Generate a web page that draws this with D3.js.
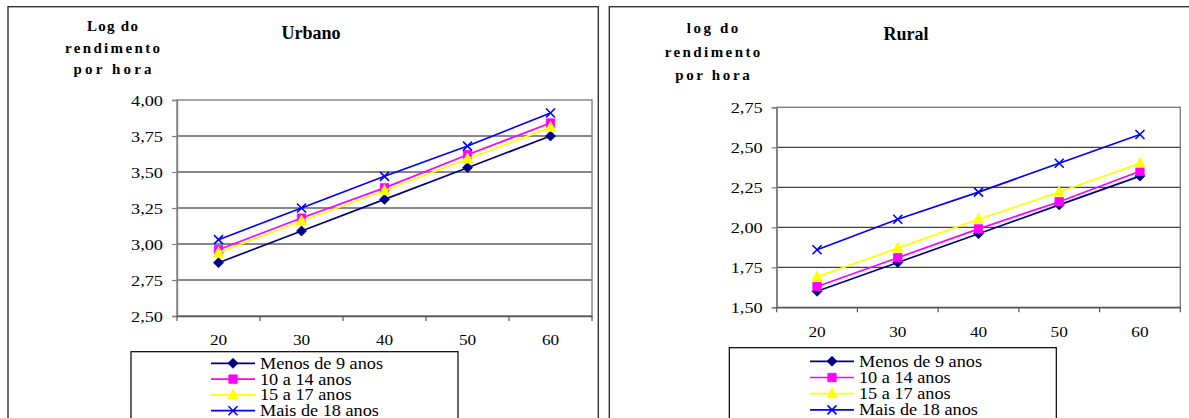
<!DOCTYPE html>
<html>
<head>
<meta charset="utf-8">
<script src="https://cdn.jsdelivr.net/npm/d3@7"></script>
<style>
  html, body { margin: 0; padding: 0; background: #fff; }
  svg { display: block; }
  svg text { font-family: "Liberation Serif", "DejaVu Serif", serif; fill: #000; }
</style>
</head>
<body>
<svg id="chart" width="1189" height="418"></svg>
<script>
// Idades (eixo X)
const ages = ["20", "30", "40", "50", "60"];
const seriesNames = ["Menos de 9 anos", "10 a 14 anos", "15 a 17 anos", "Mais de 18 anos"];

// Log do rendimento por hora — Urbano
const urbanoMenos9 = [2.87, 3.09, 3.31, 3.53, 3.75];
const urbano10a14  = [2.96, 3.18, 3.39, 3.62, 3.84];
const urbano15a17  = [2.94, 3.16, 3.37, 3.59, 3.81];
const urbanoMais18 = [3.03, 3.25, 3.47, 3.68, 3.91];

// Log do rendimento por hora — Rural
const ruralMenos9 = [1.60, 1.78, 1.96, 2.14, 2.32];
const rural10a14  = [1.63, 1.81, 1.99, 2.16, 2.35];
const rural15a17  = [1.69, 1.87, 2.05, 2.22, 2.40];
const ruralMais18 = [1.86, 2.05, 2.22, 2.40, 2.58];

// Marcas do eixo Y
const urbanoTicks = [2.50, 2.75, 3.00, 3.25, 3.50, 3.75, 4.00];
const ruralTicks  = [1.50, 1.75, 2.00, 2.25, 2.50, 2.75];

const seriesColors = ["#000080", "#FF00FF", "#FFFF00", "#0000FF"];
const seriesMarkers = ["diamond", "square", "triangle", "x"];

const FONT = '"Liberation Serif", "DejaVu Serif", serif';
const ptBR = d3.formatLocale({ decimal: ",", thousands: ".", grouping: [3], currency: ["R$", ""] });
const fmt = ptBR.format(".2f");

const svg = d3.select("#chart");

// widen text horizontally by factor k, keeping its anchor point
function stretch(sel, k) {
  sel.each(function () {
    const t = d3.select(this);
    const x = +t.attr("x") || 0;
    t.attr("x", x / k).attr("transform", `scale(${k},1)`);
  });
}

function markerPath(type) {
  const p = d3.path();
  if (type === "diamond") {
    p.moveTo(0, -5); p.lineTo(5, 0); p.lineTo(0, 5); p.lineTo(-5, 0); p.closePath();
  } else if (type === "square") {
    p.rect(-4.2, -4.2, 8.4, 8.4);
  } else if (type === "triangle") {
    p.moveTo(0, -6); p.lineTo(5.2, 4); p.lineTo(-5.2, 4); p.closePath();
  } else {
    p.moveTo(-4.5, -4.5); p.lineTo(4.5, 4.5);
    p.moveTo(4.5, -4.5); p.lineTo(-4.5, 4.5);
  }
  return p.toString();
}

function drawMarker(g, type, color, x, y) {
  const m = g.append("path")
    .attr("d", markerPath(type))
    .attr("transform", `translate(${x},${y})`);
  if (type === "x") {
    m.attr("fill", "none").attr("stroke", color).attr("stroke-width", 1.6);
  } else {
    m.attr("fill", color).attr("stroke", color).attr("stroke-width", 0.8);
  }
}

function panel(cfg) {
  const g = svg.append("g");

  // outer frame of the panel
  g.append("rect")
    .attr("x", cfg.frame[0]).attr("y", cfg.frame[1])
    .attr("width", cfg.frame[2]).attr("height", cfg.frame[3])
    .attr("fill", "none").attr("stroke", "#333").attr("stroke-width", 1.4);

  const x = d3.scaleBand().domain(ages).range(cfg.xRange);
  const y = d3.scaleLinear().domain(d3.extent(cfg.ticks)).range(cfg.yRange);
  const [x0, x1] = cfg.xRange;
  const [yb, yt] = cfg.yRange;

  // horizontal gridlines
  g.append("g").selectAll("line")
    .data(cfg.ticks.slice(1, -1))
    .join("line")
    .attr("x1", x0).attr("x2", x1)
    .attr("y1", d => y(d)).attr("y2", d => y(d))
    .attr("stroke", "#111").attr("stroke-width", 1);

  // plot area border
  g.append("rect")
    .attr("x", x0).attr("y", yt).attr("width", x1 - x0).attr("height", yb - yt)
    .attr("fill", "none").attr("stroke", "#808080").attr("stroke-width", 1.4);

  // y axis
  const yAxis = g.append("g")
    .attr("transform", `translate(${x0},0)`)
    .call(d3.axisLeft(y).tickValues(cfg.ticks).tickSize(5).tickPadding(9).tickFormat(fmt));
  yAxis.attr("font-family", FONT);
  yAxis.select(".domain").attr("stroke", "#808080").attr("stroke-width", 1.4);
  yAxis.selectAll(".tick line").attr("stroke", "#808080").attr("stroke-width", 1.2);
  yAxis.selectAll(".tick text")
    .attr("font-size", 15).attr("fill", "#000").attr("dy", "0.36em");
  stretch(yAxis.selectAll(".tick text"), 1.22);

  // x axis: labels centred in each band, ticks on band boundaries
  const xAxis = g.append("g")
    .attr("transform", `translate(0,${yb})`)
    .call(d3.axisBottom(x).tickSize(0).tickPadding(cfg.xLabelPad));
  xAxis.attr("font-family", FONT);
  xAxis.select(".domain").attr("stroke", "#555").attr("stroke-width", 1.4);
  xAxis.selectAll(".tick text")
    .attr("font-size", 15).attr("fill", "#000");
  stretch(xAxis.selectAll(".tick text"), 1.15);
  xAxis.append("g").selectAll("line")
    .data(ages.map(a => x(a)).concat([x1]))
    .join("line")
    .attr("x1", d => d).attr("x2", d => d)
    .attr("y1", 0).attr("y2", 5)
    .attr("stroke", "#555").attr("stroke-width", 1.2);

  // series lines and markers
  const line = d3.line().x((d, i) => x(ages[i]) + x.bandwidth() / 2).y(d => y(d));
  cfg.series.forEach((vals, s) => {
    g.append("path")
      .attr("d", line(vals))
      .attr("fill", "none")
      .attr("stroke", seriesColors[s])
      .attr("stroke-width", 1.7);
    const mg = g.append("g");
    vals.forEach((v, i) => {
      drawMarker(mg, seriesMarkers[s], seriesColors[s], x(ages[i]) + x.bandwidth() / 2, y(v));
    });
  });

  // chart title
  g.append("text")
    .attr("x", cfg.titlePos[0]).attr("y", cfg.titlePos[1])
    .attr("text-anchor", "middle")
    .attr("font-weight", "bold").attr("font-size", 18)
    .text(cfg.title);

  // y axis title (three lines, letter-spaced to their widths)
  cfg.yTitle.forEach((t, i) => {
    const txt = g.append("text")
      .attr("x", cfg.yTitleX - cfg.yTitleW[i] / 2)
      .attr("y", cfg.yTitleY[i])
      .attr("font-weight", "bold").attr("font-size", 15)
      .text(t);
    const natural = txt.node().getComputedTextLength();
    const gap = (cfg.yTitleW[i] - natural) / (t.length - 1);
    txt.style("letter-spacing", gap + "px");
  });

  // legend
  const lg = g.append("g");
  lg.append("rect")
    .attr("x", cfg.legend.x).attr("y", cfg.legend.y)
    .attr("width", cfg.legend.w).attr("height", 120)
    .attr("fill", "#fff").attr("stroke", "#000").attr("stroke-width", 1.2);
  seriesNames.forEach((name, s) => {
    const ry = cfg.legend.rowY + s * cfg.legend.rowH;
    lg.append("line")
      .attr("x1", cfg.legend.lineX).attr("x2", cfg.legend.lineX + 44)
      .attr("y1", ry).attr("y2", ry)
      .attr("stroke", seriesColors[s]).attr("stroke-width", 1.7);
    drawMarker(lg, seriesMarkers[s], seriesColors[s], cfg.legend.lineX + 22, ry);
    const t = lg.append("text")
      .attr("x", cfg.legend.lineX + 49).attr("y", ry + 5.5)
      .attr("font-size", 16)
      .text(name);
    stretch(t, 1.14);
  });
}

panel({
  frame: [8, 6.7, 590.3, 460],
  xRange: [177, 592],
  yRange: [316, 100],
  ticks: urbanoTicks,
  xLabelPad: 18,
  series: [urbanoMenos9, urbano10a14, urbano15a17, urbanoMais18],
  title: "Urbano",
  titlePos: [311, 39],
  yTitle: ["Log do", "rendimento", "por hora"],
  yTitleX: 112.5,
  yTitleY: [31, 52.7, 74],
  yTitleW: [51, 95, 78],
  legend: { x: 131, y: 351.7, w: 327, rowY: 363.3, rowH: 15.8, lineX: 211 }
});

panel({
  frame: [609.3, 6.7, 590, 460],
  xRange: [776.7, 1180.3],
  yRange: [307.3, 107.3],
  ticks: ruralTicks,
  xLabelPad: 19,
  series: [ruralMenos9, rural10a14, rural15a17, ruralMais18],
  title: "Rural",
  titlePos: [906, 40],
  yTitle: ["log do", "rendimento", "por hora"],
  yTitleX: 712.5,
  yTitleY: [33.3, 57.3, 80],
  yTitleW: [51.7, 95.7, 74.7],
  legend: { x: 729.3, y: 347.7, w: 327, rowY: 361.3, rowH: 16.2, lineX: 810 }
});
</script>
</body>
</html>
